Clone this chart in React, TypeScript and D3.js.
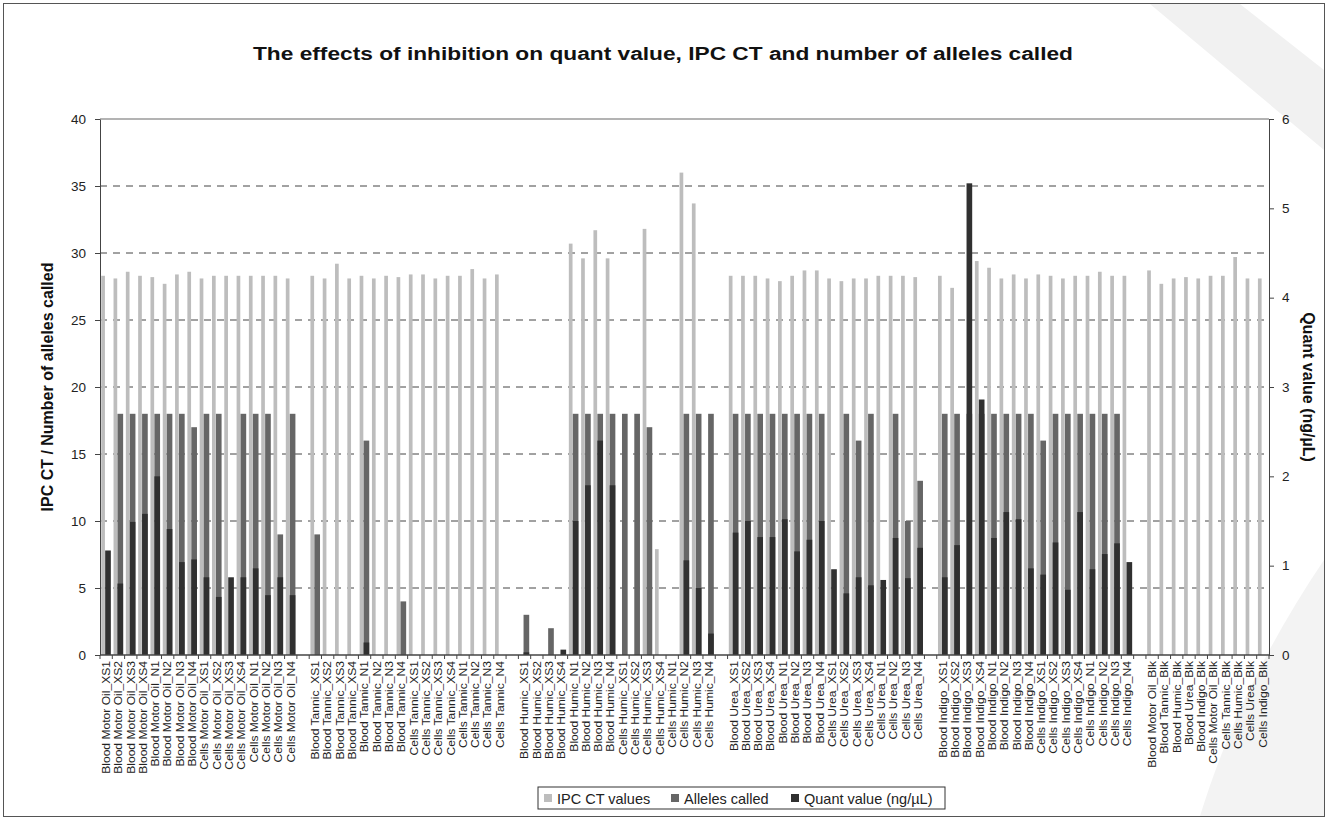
import React, { useEffect, useRef } from "react";
import * as d3 from "d3";

// category groups (one empty slot is left after each group)
const motorOil = [
  "Blood Motor Oil_XS1", "Blood Motor Oil_XS2", "Blood Motor Oil_XS3", "Blood Motor Oil_XS4",
  "Blood Motor Oil_N1", "Blood Motor Oil_N2", "Blood Motor Oil_N3", "Blood Motor Oil_N4",
  "Cells Motor Oil_XS1", "Cells Motor Oil_XS2", "Cells Motor Oil_XS3", "Cells Motor Oil_XS4",
  "Cells Motor Oil_N1", "Cells Motor Oil_N2", "Cells Motor Oil_N3", "Cells Motor Oil_N4",
];
const tannic = [
  "Blood Tannic_XS1", "Blood Tannic_XS2", "Blood Tannic_XS3", "Blood Tannic_XS4",
  "Blood Tannic_N1", "Blood Tannic_N2", "Blood Tannic_N3", "Blood Tannic_N4",
  "Cells Tannic_XS1", "Cells Tannic_XS2", "Cells Tannic_XS3", "Cells Tannic_XS4",
  "Cells Tannic_N1", "Cells Tannic_N2", "Cells Tannic_N3", "Cells Tannic_N4",
];
const humic = [
  "Blood Humic_XS1", "Blood Humic_XS2", "Blood Humic_XS3", "Blood Humic_XS4",
  "Blood Humic_N1", "Blood Humic_N2", "Blood Humic_N3", "Blood Humic_N4",
  "Cells Humic_XS1", "Cells Humic_XS2", "Cells Humic_XS3", "Cells Humic_XS4",
  "Cells Humic_N1", "Cells Humic_N2", "Cells Humic_N3", "Cells Humic_N4",
];
const urea = [
  "Blood Urea_XS1", "Blood Urea_XS2", "Blood Urea_XS3", "Blood Urea_XS4",
  "Blood Urea_N1", "Blood Urea_N2", "Blood Urea_N3", "Blood Urea_N4",
  "Cells Urea_XS1", "Cells Urea_XS2", "Cells Urea_XS3", "Cells Urea_XS4",
  "Cells Urea_N1", "Cells Urea_N2", "Cells Urea_N3", "Cells Urea_N4",
];
const indigo = [
  "Blood Indigo_XS1", "Blood Indigo_XS2", "Blood Indigo_XS3", "Blood Indigo_XS4",
  "Blood Indigo_N1", "Blood Indigo_N2", "Blood Indigo_N3", "Blood Indigo_N4",
  "Cells Indigo_XS1", "Cells Indigo_XS2", "Cells Indigo_XS3", "Cells Indigo_XS4",
  "Cells Indigo_N1", "Cells Indigo_N2", "Cells Indigo_N3", "Cells Indigo_N4",
];
const blanks = [
  "Blood Motor Oil_Blk", "Blood Tannic_Blk", "Blood Humic_Blk", "Blood Urea_Blk", "Blood Indigo_Blk",
  "Cells Motor Oil_Blk", "Cells Tannic_Blk", "Cells Humic_Blk", "Cells Urea_Blk", "Cells Indigo_Blk",
];
const groups = [motorOil, tannic, humic, urea, indigo, blanks];

// series, in category order
const ipcCt = [
  28.3, 28.1, 28.6, 28.3, 28.2, 27.7, 28.4, 28.6, 28.1, 28.3, 28.3, 28.3, 28.3, 28.3, 28.3, 28.1,
  28.3, 28.1, 29.2, 28.1, 28.3, 28.1, 28.3, 28.2, 28.4, 28.4, 28.1, 28.3, 28.3, 28.8, 28.1, 28.4,
  0, 0, 0, 0, 30.7, 29.6, 31.7, 29.6, 0, 0, 31.8, 7.9, 0, 36.0, 33.7, 0,
  28.3, 28.3, 28.3, 28.1, 27.9, 28.3, 28.7, 28.7, 28.1, 27.9, 28.1, 28.1, 28.3, 28.3, 28.3, 28.2,
  28.3, 27.4, 0, 29.4, 28.9, 28.1, 28.4, 28.1, 28.4, 28.3, 28.1, 28.3, 28.3, 28.6, 28.3, 28.3,
  28.7, 27.7, 28.1, 28.2, 28.1, 28.3, 28.3, 29.7, 28.1, 28.1,
];
const allelesCalled = [
  0, 18, 18, 18, 18, 18, 18, 17, 18, 18, 0, 18, 18, 18, 9, 18,
  9, 0, 0, 0, 16, 0, 0, 4, 0, 0, 0, 0, 0, 0, 0, 0,
  3, 0, 2, 0, 18, 18, 18, 18, 18, 18, 17, 0, 0, 18, 18, 18,
  18, 18, 18, 18, 18, 18, 18, 18, 0, 18, 16, 18, 0, 18, 10, 13,
  18, 18, 18, 18, 18, 18, 18, 18, 16, 18, 18, 18, 18, 18, 18, 0,
  0, 0, 0, 0, 0, 0, 0, 0, 0, 0,
];
const quantValue = [
  1.17, 0.8, 1.49, 1.58, 2.0, 1.41, 1.04, 1.07, 0.87, 0.65, 0.87, 0.87, 0.97, 0.67, 0.87, 0.67,
  0, 0, 0, 0, 0.14, 0, 0, 0, 0, 0, 0, 0, 0, 0, 0, 0,
  0.03, 0, 0, 0.06, 1.5, 1.9, 2.4, 1.9, 0, 0, 0, 0, 0, 1.06, 0.75, 0.24,
  1.37, 1.5, 1.32, 1.32, 1.52, 1.16, 1.29, 1.5, 0.96, 0.69, 0.87, 0.78, 0.84, 1.31, 0.86, 1.2,
  0.87, 1.23, 5.28, 2.86, 1.31, 1.6, 1.52, 0.97, 0.9, 1.26, 0.73, 1.6, 0.96, 1.13, 1.25, 1.04,
  0, 0, 0, 0, 0, 0, 0, 0, 0, 0,
];

const leftTicks = [0, 5, 10, 15, 20, 25, 30, 35, 40];
const rightTicks = [0, 1, 2, 3, 4, 5, 6];
const legendItems = ["IPC CT values", "Alleles called", "Quant value (ng/µL)"];
const colors = ["#bdbdbd", "#666666", "#303030"];

const W = 1328;
const H = 820;
const FONT = "Arial, 'Liberation Sans', sans-serif";

const App = () => {
  const svgRef = useRef<SVGSVGElement>(null);

  useEffect(() => {
    const svg = d3.select(svgRef.current);
    svg.selectAll("*").remove();

    const margin = { top: 119, right: 59, bottom: 165, left: 100 };
    const x0 = margin.left, x1 = W - margin.right;
    const y0 = H - margin.bottom, y1 = margin.top;

    // slots: every category plus one empty slot between groups
    const categories: string[] = [];
    const slots: string[] = [];
    groups.forEach((g, i) => {
      g.forEach(c => { categories.push(c); slots.push(c); });
      if (i < groups.length - 1) slots.push(`gap${i}`);
    });
    const data = categories.map((c, i) => ({
      name: c, ipc: ipcCt[i], alleles: allelesCalled[i], quant: quantValue[i],
    }));

    const x = d3.scaleBand().domain(slots).range([x0, x1]).padding(0);
    const bw = x.bandwidth();
    const yL = d3.scaleLinear().domain([0, 40]).range([y0, y1]);
    const yR = d3.scaleLinear().domain([0, 6]).range([y0, y1]);

    svg.append("rect").attr("x", 0).attr("y", 0).attr("width", W).attr("height", H).attr("fill", "#fff");

    // faint scanned watermark shapes
    svg.append("path")
      .attr("d", "M1150,4 L1240,4 L1324,70 L1324,150 Z")
      .attr("fill", "#f1f1f1");
    svg.append("path")
      .attr("d", "M1324,560 C1270,640 1230,720 1200,816 L1324,816 Z")
      .attr("fill", "#f3f3f3");

    svg.append("rect").attr("x", 3.5).attr("y", 3.5).attr("width", W - 7).attr("height", H - 7)
      .attr("fill", "none").attr("stroke", "#555");

    // gridlines
    svg.append("g").selectAll("line")
      .data(leftTicks.filter(t => t > 0 && t < 40))
      .enter().append("line")
      .attr("x1", x0).attr("x2", x1)
      .attr("y1", d => yL(d)).attr("y2", d => yL(d))
      .attr("stroke", "#444").attr("stroke-dasharray", "7,6");
    svg.append("line").attr("x1", x0).attr("x2", x1).attr("y1", y1).attr("y2", y1)
      .attr("stroke", "#9a9a9a").attr("stroke-width", 1.5);

    // bars
    svg.append("g").selectAll("rect")
      .data(data.filter(d => d.ipc > 0))
      .enter().append("rect")
      .attr("x", d => (x(d.name) as number) + bw * 0.1)
      .attr("width", bw * 0.3)
      .attr("y", d => yL(d.ipc))
      .attr("height", d => y0 - yL(d.ipc))
      .attr("fill", colors[0]);

    svg.append("g").selectAll("rect")
      .data(data.filter(d => d.alleles > 0))
      .enter().append("rect")
      .attr("x", d => (x(d.name) as number) + bw * 0.42)
      .attr("width", bw * 0.46)
      .attr("y", d => yL(d.alleles))
      .attr("height", d => y0 - yL(d.alleles))
      .attr("fill", colors[1]);

    svg.append("g").selectAll("rect")
      .data(data.filter(d => d.quant > 0))
      .enter().append("rect")
      .attr("x", d => (x(d.name) as number) + bw * 0.42)
      .attr("width", bw * 0.46)
      .attr("y", d => yR(d.quant))
      .attr("height", d => y0 - yR(d.quant))
      .attr("fill", colors[2]);

    // left axis
    const gl = svg.append("g")
      .attr("transform", `translate(${x0},0)`)
      .call(d3.axisLeft(yL).tickValues(leftTicks).tickSize(5).tickPadding(9).tickSizeOuter(0));
    gl.select(".domain").attr("stroke", "#444");
    gl.selectAll(".tick line").attr("stroke", "#444");
    gl.selectAll("text").attr("font-family", FONT).attr("font-size", 13.5).attr("fill", "#222");

    // right axis
    const gr = svg.append("g")
      .attr("transform", `translate(${x1},0)`)
      .call(d3.axisRight(yR).tickValues(rightTicks).tickFormat(d3.format("d"))
        .tickSize(5).tickPadding(8).tickSizeOuter(0));
    gr.select(".domain").attr("stroke", "#444");
    gr.selectAll(".tick line").attr("stroke", "#444");
    gr.selectAll("text").attr("font-family", FONT).attr("font-size", 13.5).attr("fill", "#222");

    // x axis line + boundary ticks
    svg.append("line").attr("x1", x0).attr("x2", x1).attr("y1", y0).attr("y2", y0)
      .attr("stroke", "#444").attr("stroke-width", 1.5);
    svg.append("g").selectAll("line")
      .data([...slots.map(s => x(s) as number), x1])
      .enter().append("line")
      .attr("x1", d => d).attr("x2", d => d)
      .attr("y1", y0).attr("y2", y0 + 4)
      .attr("stroke", "#444");

    // category labels
    svg.append("g").selectAll("text")
      .data(categories)
      .enter().append("text")
      .attr("transform", d => `translate(${(x(d) as number) + bw / 2 + 3.8},${y0 + 6}) rotate(-90) scale(1.1,1)`)
      .attr("text-anchor", "end")
      .attr("font-family", FONT)
      .attr("font-size", 11)
      .attr("fill", "#222")
      .text(d => d);

    // titles
    svg.append("text")
      .attr("x", 663).attr("y", 60)
      .attr("text-anchor", "middle")
      .attr("font-family", FONT).attr("font-size", 18).attr("font-weight", "bold")
      .attr("textLength", 820).attr("lengthAdjust", "spacingAndGlyphs")
      .attr("fill", "#111")
      .text("The effects of inhibition on quant value, IPC CT and number of alleles called");

    svg.append("text")
      .attr("transform", `translate(53,${(y0 + y1) / 2}) rotate(-90)`)
      .attr("text-anchor", "middle")
      .attr("font-family", FONT).attr("font-size", 16).attr("font-weight", "bold")
      .attr("fill", "#111")
      .text("IPC CT / Number of alleles called");

    svg.append("text")
      .attr("transform", `translate(1303,${(y0 + y1) / 2}) rotate(90)`)
      .attr("text-anchor", "middle")
      .attr("font-family", FONT).attr("font-size", 16).attr("font-weight", "bold")
      .attr("fill", "#111")
      .text("Quant value (ng/µL)");

    // legend
    const lg = svg.append("g").attr("transform", "translate(538,787)");
    lg.append("rect").attr("width", 407).attr("height", 22)
      .attr("fill", "#fff").attr("stroke", "#333");
    const offsets = [6, 133, 253];
    legendItems.forEach((t, i) => {
      lg.append("rect").attr("x", offsets[i]).attr("y", 7).attr("width", 8).attr("height", 8)
        .attr("fill", colors[i]);
      lg.append("text").attr("x", offsets[i] + 13).attr("y", 16.5)
        .attr("font-family", FONT).attr("font-size", 14.5).attr("fill", "#222")
        .text(t);
    });
  }, []);

  return (
    <svg ref={svgRef} width={W} height={H}
      style={{ position: "absolute", left: 0, top: 0, display: "block" }} />
  );
};

export default App;
